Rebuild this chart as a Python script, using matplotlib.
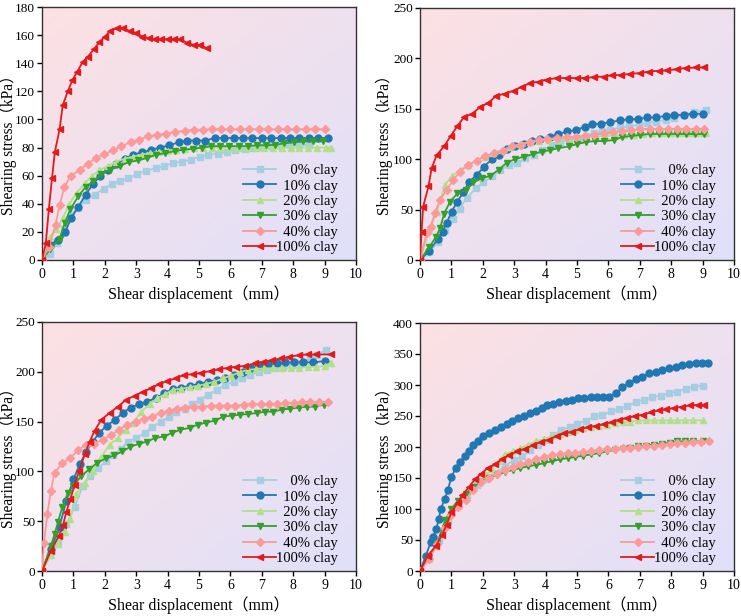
import numpy as np
import matplotlib
matplotlib.use("Agg")
import matplotlib.pyplot as plt

plt.rcParams['font.family'] = ['Liberation Serif', 'Noto Sans CJK SC']
plt.rcParams['axes.unicode_minus'] = False

# DATA
labels = ["    0% clay", "  10% clay", "  20% clay", "  30% clay", "  40% clay", "100% clay"]
colors = ["#a6cee3", "#1f78b4", "#b2df8a", "#33a02c", "#fb9a99", "#e31a1c"]
markers = ["s", "o", "^", "v", "D", "<"]

# panel a (top left)
a_x0 = [0, 0.24, 0.48, 0.7, 0.92, 1.16, 1.4, 1.68, 1.96, 2.22, 2.48, 2.75, 3.02, 3.32, 3.62, 3.9, 4.17, 4.46, 4.75, 5.02, 5.3, 5.6, 5.88, 6.16, 6.45, 6.73, 7.0, 7.3, 7.6, 7.9, 8.2, 8.5]
a_y0 = [0, 4, 12, 22, 32, 37, 43, 46.5, 50.7, 53.8, 56, 58, 61, 63.5, 65.3, 66.7, 69, 70, 71.5, 73.5, 74.8, 75.7, 76.6, 78, 79, 80, 80.5, 81, 81, 81.5, 81.5, 82]
a_x1 = [0, 0.25, 0.5, 0.74, 0.93, 1.16, 1.39, 1.62, 1.86, 2.1, 2.36, 2.63, 2.9, 3.19, 3.48, 3.77, 4.06, 4.35, 4.62, 4.9, 5.2, 5.5, 5.8, 6.1, 6.4, 6.7, 7.0, 7.3, 7.6, 7.9, 8.2, 8.5, 8.8, 9.1]
a_y1 = [0, 11, 14, 20, 30, 38, 46.5, 54, 60, 64, 68, 72, 75, 76.6, 78.5, 80, 81.6, 83.7, 85, 85, 85, 86.8, 86.8, 86.8, 86.8, 86.8, 86.8, 86.8, 86.8, 86.8, 86.8, 86.8, 86.8, 86.8]
a_x2 = [0, 0.26, 0.46, 0.67, 0.86, 1.11, 1.36, 1.6, 1.83, 2.1, 2.36, 2.63, 2.9, 3.17, 3.45, 3.72, 4.0, 4.28, 4.56, 4.84, 5.12, 5.4, 5.68, 5.96, 6.24, 6.52, 6.8, 7.08, 7.36, 7.64, 7.92, 8.2, 8.48, 8.76, 9.04, 9.2]
a_y2 = [0, 16.5, 22, 30, 39.6, 48, 54.5, 60, 64, 66.7, 70, 72, 73.5, 75, 76, 77, 77.5, 78.5, 79, 79.5, 80, 80, 80, 80, 80, 80, 80, 80, 80, 80, 80, 80, 80, 80, 80, 80]
a_x3 = [0, 0.27, 0.56, 0.72, 0.9, 1.16, 1.39, 1.64, 1.89, 2.17, 2.47, 2.77, 3.05, 3.35, 3.64, 3.92, 4.22, 4.5, 4.8, 5.09, 5.39, 5.68, 5.97, 6.26, 6.55, 6.84, 7.14, 7.43, 7.72, 8.02, 8.3, 8.62, 8.94]
a_y3 = [0, 8, 15, 26, 36, 45.5, 52, 56, 61, 64, 67, 69.6, 70.8, 72.6, 75, 76, 77.4, 78.5, 79, 80, 81, 81, 81, 81, 81, 81.6, 81.6, 82, 83, 83.7, 84.4, 84.4, 84.4]
a_x4 = [0, 0.22, 0.43, 0.56, 0.71, 0.92, 1.2, 1.45, 1.73, 1.99, 2.26, 2.52, 2.82, 3.09, 3.37, 3.67, 3.96, 4.24, 4.54, 4.84, 5.12, 5.4, 5.7, 6.0, 6.3, 6.6, 6.9, 7.2, 7.5, 7.8, 8.1, 8.4, 8.7, 9.0]
a_y4 = [0, 9, 25, 39, 52, 60, 64, 68.5, 72.6, 75.5, 78, 81, 83.7, 85.6, 88, 89, 90, 91, 92, 92.7, 92.7, 93, 93, 93, 93, 93, 93, 93, 93, 93, 93, 93, 93, 93]
a_x5 = [0, 0.12, 0.22, 0.32, 0.41, 0.56, 0.66, 0.82, 0.97, 1.12, 1.3, 1.46, 1.65, 1.83, 2.0, 2.18, 2.39, 2.58, 2.79, 3.0, 3.19, 3.4, 3.6, 3.8, 4.0, 4.2, 4.41, 4.62, 4.84, 5.04, 5.27]
a_y5 = [0, 11.8, 36.6, 58.5, 77, 93, 110, 120, 128, 134, 141, 144.6, 150, 155, 159, 163, 165, 165, 163, 161.5, 159, 158, 157, 157, 157, 157, 157, 154.5, 153, 153, 150.5]

# panel b (top right)
b_x0 = [0, 0.3, 0.58, 0.8, 1.04, 1.26, 1.49, 1.79, 2.02, 2.29, 2.55, 2.82, 3.09, 3.35, 3.62, 3.9, 4.2, 4.47, 4.76, 5.05, 5.3, 5.55, 5.8, 6.06, 6.38, 6.65, 6.97, 7.23, 7.52, 7.82, 8.1, 8.4, 8.72, 9.1]
b_y0 = [0, 8, 18, 30, 41, 51, 62, 71, 77, 83, 89, 94, 96, 101, 104, 109, 113.6, 116.6, 119, 121, 123, 125.5, 127.5, 129, 131.5, 132.5, 134, 136, 137.4, 139, 140.7, 144, 146.7, 149]
b_x1 = [0, 0.3, 0.56, 0.72, 0.85, 1.01, 1.19, 1.38, 1.57, 1.81, 2.04, 2.29, 2.52, 2.77, 3.03, 3.3, 3.56, 3.83, 4.15, 4.41, 4.68, 4.97, 5.24, 5.48, 5.78, 6.06, 6.36, 6.65, 6.95, 7.23, 7.52, 7.82, 8.1, 8.4, 8.7, 9.0]
b_y1 = [0, 9.3, 20.5, 28, 37, 48, 58, 67, 77.8, 84.4, 92.7, 100, 104, 110, 112.6, 115, 118.5, 120, 122.5, 125, 127.5, 129, 132, 135, 135, 136.8, 138.4, 139.7, 139.7, 141.4, 141.4, 143, 144, 144, 145, 145]
b_x2 = [0, 0.3, 0.53, 0.8, 1.01, 1.28, 1.54, 1.81, 2.07, 2.34, 2.6, 2.87, 3.19, 3.5, 3.8, 4.1, 4.4, 4.7, 5.0, 5.3, 5.6, 5.9, 6.2, 6.5, 6.8, 7.1, 7.4, 7.7, 8.0, 8.3, 8.6, 8.9, 9.1]
b_y2 = [0, 30, 48, 74.5, 83, 89.4, 94.4, 99, 102.6, 106.6, 109, 112, 115, 117, 118.5, 119.5, 120.5, 121, 121.5, 122, 122.5, 123, 123.5, 124, 124.5, 125, 125.5, 126, 126, 126, 126, 126, 126]
b_x3 = [0, 0.3, 0.51, 0.64, 0.77, 0.96, 1.19, 1.46, 1.7, 1.97, 2.23, 2.5, 2.77, 3.03, 3.3, 3.59, 3.88, 4.15, 4.41, 4.73, 5.0, 5.29, 5.57, 5.85, 6.17, 6.44, 6.72, 7.02, 7.31, 7.6, 7.89, 8.18, 8.47, 8.76, 9.04]
b_y3 = [0, 13, 23, 31.5, 46, 58, 66, 69.5, 77, 81, 83.4, 89.4, 96.7, 100, 102.6, 105, 107.6, 109, 111, 112.6, 115, 117, 118, 118, 119, 122, 123, 124, 125, 125, 125, 125, 125, 125, 125]
b_x4 = [0, 0.21, 0.34, 0.48, 0.64, 0.85, 1.06, 1.28, 1.54, 1.81, 2.07, 2.36, 2.64, 2.93, 3.22, 3.51, 3.78, 4.04, 4.36, 4.68, 4.98, 5.27, 5.55, 5.85, 6.14, 6.44, 6.72, 7.02, 7.31, 7.6, 7.89, 8.19, 8.48, 8.78, 9.04]
b_y4 = [0, 26.5, 33, 47, 59.6, 69.5, 79.5, 87.7, 94.4, 98.7, 103, 106, 108.6, 112.6, 114, 117.5, 119, 120, 121, 122, 122.5, 123, 124, 126, 126.5, 127.5, 128.5, 130, 130, 130, 130, 130, 130, 130, 130]
b_x5 = [0, 0.05, 0.1, 0.27, 0.37, 0.53, 0.77, 0.98, 1.19, 1.41, 1.66, 1.91, 2.18, 2.43, 2.71, 2.98, 3.24, 3.51, 3.78, 4.04, 4.36, 4.68, 5.0, 5.27, 5.53, 5.85, 6.12, 6.4, 6.7, 7.02, 7.29, 7.6, 7.87, 8.17, 8.46, 8.78, 9.04]
b_y5 = [0, 28, 53, 73, 91, 104, 113, 123, 133, 142, 145, 151.7, 156, 163, 165, 168, 172, 175.5, 177, 179, 180.5, 180.5, 180.5, 180.5, 181.5, 182, 183.4, 183.4, 184.8, 185.4, 187, 187.7, 188, 189.4, 190.4, 191, 191]

# panel c (bottom left)
c_x0 = [0, 0.24, 0.5, 0.77, 1.04, 1.3, 1.54, 1.78, 2.05, 2.27, 2.5, 2.73, 3.0, 3.27, 3.51, 3.78, 4.04, 4.27, 4.54, 4.78, 5.04, 5.3, 5.57, 5.84, 6.1, 6.37, 6.63, 6.9, 7.17, 7.43, 7.69, 7.95, 8.22, 8.52, 8.75, 9.05]
c_y0 = [0, 15.6, 29, 47, 64, 85.4, 95.4, 103.7, 110, 116, 122, 130, 133.6, 138.6, 145, 149.6, 155, 160, 163, 167.5, 172, 177, 182, 187, 190, 194, 197, 199.5, 201.8, 203.5, 205, 206.8, 208.4, 213.4, 216.8, 222]
c_x1 = [0, 0.28, 0.56, 0.77, 1.0, 1.2, 1.41, 1.62, 1.83, 2.07, 2.33, 2.58, 2.82, 3.09, 3.35, 3.64, 3.9, 4.17, 4.43, 4.72, 5.0, 5.28, 5.57, 5.84, 6.13, 6.39, 6.66, 6.92, 7.19, 7.48, 7.75, 8.04, 8.32, 8.62, 9.0]
c_y1 = [0, 22, 44.5, 70, 92, 107, 119.7, 130, 139, 146, 152, 159, 164, 167.5, 170, 174, 178.5, 183, 184, 186, 187.8, 190, 191.8, 193.5, 196.8, 199.5, 204, 206.8, 207.4, 208.4, 209.4, 209.4, 209.4, 209.4, 210.8]
c_x2 = [0, 0.28, 0.51, 0.72, 0.9, 1.09, 1.36, 1.62, 1.88, 2.15, 2.42, 2.66, 2.9, 3.16, 3.43, 3.67, 3.92, 4.17, 4.43, 4.7, 4.98, 5.23, 5.49, 5.76, 6.02, 6.29, 6.55, 6.82, 7.08, 7.37, 7.65, 7.93, 8.2, 8.46, 8.73, 9.0, 9.2]
c_y2 = [0, 15.6, 27, 39, 52, 77, 88.8, 100, 114, 127, 133.6, 142, 148.6, 160, 167.5, 173.5, 177.5, 182, 183, 184.5, 186, 187.8, 190, 193.5, 196, 199.5, 201.8, 202.8, 203.5, 203.5, 203.5, 204, 204, 204.8, 205, 205.8, 209]
c_x3 = [0, 0.28, 0.4, 0.51, 0.65, 0.83, 1.0, 1.25, 1.5, 1.76, 2.03, 2.29, 2.56, 2.81, 3.08, 3.35, 3.6, 3.88, 4.14, 4.41, 4.7, 4.96, 5.23, 5.5, 5.78, 6.04, 6.31, 6.57, 6.84, 7.1, 7.37, 7.63, 7.9, 8.17, 8.43, 8.7, 8.97]
c_y3 = [0, 24.6, 37, 49, 64.5, 78.8, 85.4, 95.4, 102, 108.7, 113, 116, 120, 124.7, 127.6, 130, 133.6, 135, 138.6, 142, 143.6, 147, 149, 151, 155, 156, 157, 157.6, 158.6, 160, 160, 162, 163, 164, 165, 165, 167]
c_x4 = [0, 0.06, 0.17, 0.28, 0.4, 0.65, 0.9, 1.15, 1.39, 1.65, 1.94, 2.2, 2.45, 2.71, 2.98, 3.24, 3.51, 3.78, 4.04, 4.31, 4.57, 4.84, 5.1, 5.37, 5.63, 5.9, 6.16, 6.43, 6.69, 6.96, 7.22, 7.49, 7.75, 8.02, 8.28, 8.55, 8.81, 9.1]
c_y4 = [0, 28, 57, 80.5, 98.7, 108, 113.7, 121, 127, 128, 132, 136.3, 142, 147, 150, 153, 155, 158.6, 161, 163, 164, 165, 165, 166, 166, 166, 166, 167, 167.5, 167.5, 167.5, 168, 168.5, 169, 169.5, 169.5, 169.5, 170]
c_x5 = [0, 0.28, 0.54, 0.67, 0.77, 0.9, 1.04, 1.18, 1.36, 1.52, 1.68, 1.89, 2.15, 2.42, 2.68, 2.95, 3.21, 3.48, 3.72, 3.99, 4.27, 4.52, 4.8, 5.07, 5.37, 5.63, 5.92, 6.18, 6.48, 6.77, 7.05, 7.33, 7.61, 7.88, 8.18, 8.46, 8.73, 9.2]
c_y5 = [0, 20, 35.6, 46, 58.8, 72, 86.4, 100.4, 117, 130, 141, 152, 158.6, 165, 172, 176, 180, 183.5, 187.5, 190.8, 193.5, 197, 197.5, 199, 200.8, 202.5, 204, 205, 206, 208.4, 210, 211.8, 213.4, 215, 216.8, 217.4, 217.4, 217.4]

# panel d (bottom right)
d_x0 = [0, 0.3, 0.6, 0.9, 1.2, 1.5, 1.8, 2.1, 2.4, 2.7, 3.0, 3.25, 3.5, 3.75, 4.0, 4.25, 4.5, 4.78, 5.0, 5.28, 5.54, 5.81, 6.07, 6.34, 6.6, 6.87, 7.13, 7.4, 7.66, 7.93, 8.2, 8.46, 8.73, 9.0]
d_y0 = [0, 22, 50, 80, 105, 122, 138, 148, 158, 170, 179, 185, 195, 204, 212, 220, 227, 233, 237.6, 242.4, 249.4, 251, 257.4, 261, 265.4, 272.4, 276, 280, 283, 286.8, 289.5, 293.7, 297.5, 299]
d_x1 = [0, 0.18, 0.34, 0.42, 0.52, 0.6, 0.66, 0.79, 0.89, 1.0, 1.14, 1.27, 1.42, 1.56, 1.7, 1.85, 2.02, 2.2, 2.38, 2.57, 2.76, 2.94, 3.13, 3.31, 3.5, 3.68, 3.87, 4.06, 4.25, 4.44, 4.64, 4.84, 5.03, 5.22, 5.44, 5.63, 5.83, 6.03, 6.23, 6.44, 6.66, 6.87, 7.08, 7.29, 7.5, 7.72, 7.93, 8.14, 8.35, 8.57, 8.78, 8.99, 9.18]
d_y1 = [0, 23.5, 46.5, 55.5, 67.8, 84, 100, 116, 131, 151.7, 166.6, 176, 185, 194, 204, 210, 217, 222.7, 227, 231.8, 237, 241.4, 246.7, 250.5, 254.7, 258.5, 262.8, 267, 269, 272.4, 274.5, 276, 278.8, 278.8, 280, 281.4, 281.4, 281.4, 286.8, 296, 302.8, 309, 313.5, 318.8, 321.5, 324, 326.8, 329.5, 332, 333.8, 334.8, 334.8, 335]
d_x2 = [0, 0.3, 0.5, 0.7, 0.9, 1.1, 1.3, 1.5, 1.7, 1.9, 2.1, 2.3, 2.5, 2.7, 2.95, 3.2, 3.45, 3.7, 3.95, 4.2, 4.45, 4.7, 4.95, 5.2, 5.45, 5.7, 5.95, 6.2, 6.45, 6.7, 6.95, 7.2, 7.45, 7.7, 7.95, 8.2, 8.45, 8.7, 9.0]
d_y2 = [0, 20, 40, 62, 85, 105, 118, 128, 136, 145, 155, 165, 178, 188, 193, 198, 204, 209, 213, 217, 221, 224, 227, 230, 232, 234, 236, 238, 240, 241, 243, 243, 243, 243, 243, 243, 243, 243, 243]
d_x3 = [0, 0.3, 0.55, 0.8, 1.0, 1.2, 1.45, 1.7, 1.95, 2.2, 2.45, 2.7, 2.95, 3.2, 3.45, 3.7, 3.95, 4.2, 4.45, 4.7, 4.95, 5.2, 5.45, 5.7, 5.95, 6.2, 6.45, 6.7, 6.95, 7.2, 7.45, 7.7, 7.95, 8.2, 8.45, 8.7, 9.0]
d_y3 = [0, 22, 45, 82, 100, 113, 125, 135, 144, 150, 155, 159, 163, 166, 169, 171, 174, 177, 180, 182, 184, 186, 188, 190, 193, 195, 197, 199, 201, 202, 204, 205, 207, 209, 209, 209, 209]
d_x4 = [0, 0.3, 0.55, 0.8, 1.0, 1.2, 1.45, 1.7, 1.95, 2.2, 2.45, 2.7, 2.95, 3.2, 3.45, 3.7, 3.95, 4.2, 4.45, 4.7, 4.95, 5.2, 5.45, 5.7, 5.95, 6.2, 6.45, 6.7, 6.95, 7.2, 7.45, 7.7, 7.95, 8.2, 8.45, 8.7, 8.95, 9.2]
d_y4 = [0, 20, 43, 70, 90, 103, 115, 130, 143, 150, 157, 163, 168, 172, 176, 180, 184, 187, 188, 190, 191, 192, 193, 195, 196, 197, 198, 199, 200, 201, 202, 203, 205, 206, 207, 208, 208, 209]
d_x5 = [0, 0.25, 0.5, 0.7, 0.85, 1.0, 1.2, 1.35, 1.55, 1.75, 1.95, 2.15, 2.4, 2.6, 2.85, 3.1, 3.35, 3.6, 3.85, 4.1, 4.35, 4.6, 4.85, 5.1, 5.35, 5.6, 5.85, 6.1, 6.35, 6.6, 6.85, 7.1, 7.35, 7.6, 7.85, 8.1, 8.35, 8.6, 8.85, 9.05]
d_y5 = [0, 25, 40, 58, 75, 95, 110, 122, 135, 148, 157, 166, 172, 180, 187, 193, 197, 203, 208, 212, 218, 222, 225, 229, 232, 234, 237, 240, 244, 247, 250, 252, 256, 259, 261, 263, 265, 267, 268, 268]

panels = [
    ([a_x0, a_x1, a_x2, a_x3, a_x4, a_x5], [a_y0, a_y1, a_y2, a_y3, a_y4, a_y5], 180, 20),
    ([b_x0, b_x1, b_x2, b_x3, b_x4, b_x5], [b_y0, b_y1, b_y2, b_y3, b_y4, b_y5], 250, 50),
    ([c_x0, c_x1, c_x2, c_x3, c_x4, c_x5], [c_y0, c_y1, c_y2, c_y3, c_y4, c_y5], 250, 50),
    ([d_x0, d_x1, d_x2, d_x3, d_x4, d_x5], [d_y0, d_y1, d_y2, d_y3, d_y4, d_y5], 400, 50),
]

W, H = 741, 616
fig = plt.figure(figsize=(W / 100, H / 100), dpi=100)
fig.patch.set_facecolor("white")

# axes boxes in pixels: left, top, right, bottom, and y-label centre x
boxes = [(42, 7, 356, 260, 8.5), (420, 8, 734, 260, 384), (42, 322, 356, 571, 8.5), (420, 323, 734, 571, 384)]

# diagonal pink -> lavender gradient
c1 = np.array([253, 225, 227]) / 255
c2 = np.array([224, 224, 250]) / 255
gx, gy = np.meshgrid(np.linspace(0, 1, 200), np.linspace(0, 1, 200))
t = (gx + gy) / 2
grad = c1[None, None, :] * (1 - t[..., None]) + c2[None, None, :] * t[..., None]

for (xs, ys, ymax, ystep), (l, tp, r, b, lx) in zip(panels, boxes):
    ax = fig.add_axes([l / W, 1 - b / H, (r - l) / W, (b - tp) / H])
    ax.imshow(grad, extent=[0, 1, 0, 1], transform=ax.transAxes, aspect="auto",
              origin="upper", zorder=0, interpolation="bilinear")
    for i in range(6):
        ax.plot(xs[i], ys[i], marker=markers[i], color=colors[i], lw=1.3,
                ms=5 if markers[i] != "D" else 4.2, label=labels[i], zorder=3)
    ax.set_xlim(0, 10)
    ax.set_ylim(0, ymax)
    ax.set_xticks(range(0, 11))
    ax.set_yticks(np.arange(0, ymax + 1, ystep))
    ax.tick_params(direction="out", length=3.5, width=1, labelsize=9.5, pad=1.5)
    ax.tick_params(axis="x", labelsize=10, pad=2.5)
    for sp in ax.spines.values():
        sp.set_linewidth(1.0)
        sp.set_color("#333333")
    ax.set_xlabel("Shear displacement（mm）", fontsize=11.5, labelpad=3)
    ax.set_ylabel("Shearing stress（kPa）", fontsize=11.2, va="center")
    ax.yaxis.set_label_coords((lx - l) / (r - l), 0.47)
    ax.legend(loc="lower right", bbox_to_anchor=(0.962, 0.0), frameon=False,
              fontsize=10.5, handlelength=2.3, handletextpad=0.0,
              labelspacing=0.15, borderaxespad=0.0)

fig.savefig("out.png", dpi=100)
